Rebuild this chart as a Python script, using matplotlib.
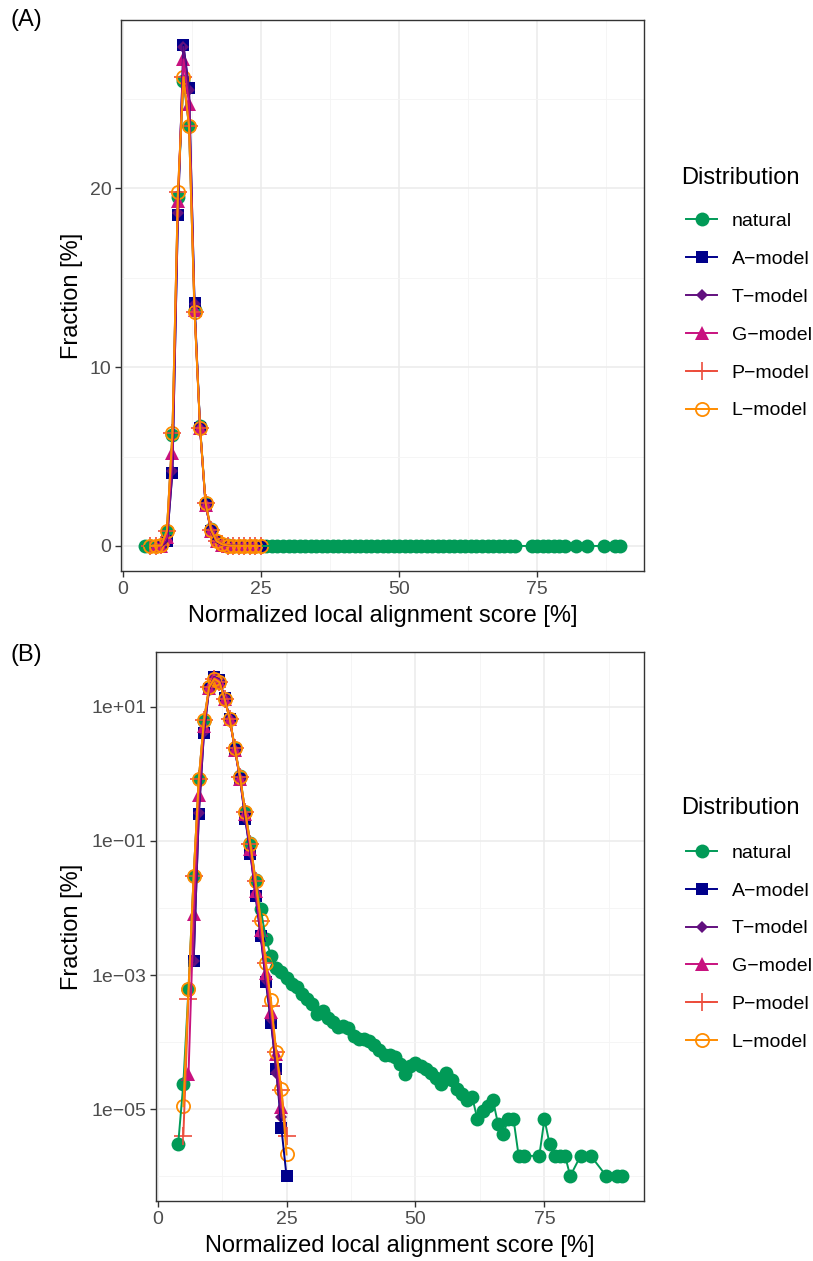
import numpy as np
import matplotlib
matplotlib.use("Agg")
import matplotlib.pyplot as plt
from matplotlib.lines import Line2D
from matplotlib.ticker import FixedLocator, NullFormatter

plt.rcParams['font.family'] = ['Liberation Sans', 'DejaVu Sans']

# ---------------- data ----------------
nat_x = list(range(4, 72)) + list(range(74, 81)) + [82, 84, 87, 89, 90]
nat_y = [3.0e-6, 2.4e-5, 6.2e-4, 0.03, 0.83, 6.2, 19.5, 26.0, 23.5, 13.2,
         6.7, 2.4, 0.92, 0.275, 0.092, 0.026, 0.0095, 0.0035, 0.0019, 0.00126,
         0.0011, 9.0e-4, 7.4e-4, 6.6e-4, 5.2e-4, 4.4e-4, 3.7e-4, 2.6e-4, 2.9e-4, 2.3e-4,
         1.96e-4, 1.7e-4, 1.74e-4, 1.6e-4, 1.25e-4, 1.12e-4, 1.12e-4, 1.05e-4, 8.9e-5, 7.5e-5,
         6.3e-5, 6.4e-5, 6.0e-5, 4.7e-5, 3.3e-5, 4.4e-5, 4.8e-5, 4.4e-5, 4.0e-5, 3.4e-5,
         2.9e-5, 2.4e-5, 3.5e-5, 2.75e-5, 2.0e-5, 1.7e-5, 1.35e-5, 1.5e-5, 7.1e-6, 9.4e-6,
         1.12e-5, 1.38e-5, 6.0e-6, 4.2e-6, 7.1e-6, 7.1e-6, 2.0e-6, 2.0e-6,
         2.0e-6, 7.1e-6, 3.0e-6, 2.0e-6, 2.0e-6, 2.0e-6, 1.0e-6,
         2.0e-6, 2.0e-6, 1.0e-6, 1.0e-6, 1.0e-6]

a_x = list(range(7, 26))
a_y = [1.6e-3, 0.25, 4.1, 18.5, 28.0, 25.6, 13.6, 6.6, 2.3, 0.83,
       0.21, 0.065, 0.015, 3.8e-3, 7.9e-4, 1.9e-4, 4.0e-5, 5.3e-6, 1.0e-6]

t_x = list(range(7, 25))
t_y = [1.6e-3, 0.26, 4.2, 18.6, 27.9, 25.5, 13.5, 6.6, 2.3, 0.84,
       0.22, 0.068, 0.016, 4.0e-3, 8.5e-4, 2.2e-4, 3.5e-5, 7.5e-6]

g_x = list(range(6, 25))
g_y = [3.3e-5, 8.2e-3, 0.49, 5.2, 19.3, 27.2, 24.7, 13.2, 6.6, 2.3,
       0.85, 0.25, 0.075, 0.018, 4.7e-3, 1.06e-3, 2.8e-4, 6.7e-5, 1.06e-5]

p_x = list(range(5, 26))
p_y = [4.0e-6, 4.4e-4, 0.03, 0.85, 6.3, 19.8, 26.2, 23.5, 13.1, 6.6,
       2.4, 0.9, 0.27, 0.09, 0.025, 6.5e-3, 1.5e-3, 3.5e-4, 7.2e-5, 1.9e-5, 4.0e-6]

l_x = list(range(5, 26))
l_y = [1.1e-5, 6.2e-4, 0.03, 0.85, 6.3, 19.8, 26.2, 23.5, 13.1, 6.6,
       2.4, 0.9, 0.27, 0.09, 0.025, 6.7e-3, 1.5e-3, 4.2e-4, 7.2e-5, 2.0e-5, 2.1e-6]

series_names = ["natural", "A\u2212model", "T\u2212model", "G\u2212model", "P\u2212model", "L\u2212model"]
legend_title = "Distribution"
xlabel = "Normalized local alignment score [%]"
ylabel = "Fraction [%]"

# ---------------- styles ----------------
styles = [
    dict(color="#019A57", marker="o", ms=10, mfc="#019A57", mew=0),
    dict(color="#00008B", marker="s", ms=9.3, mfc="#00008B", mew=0),
    dict(color="#62107F", marker="D", ms=6.5, mfc="#62107F", mew=0),
    dict(color="#C8127F", marker="^", ms=10.5, mfc="#C8127F", mew=0),
    dict(color="#EC4D3C", marker="+", ms=13, mfc="none", mew=1.2),
    dict(color="#FF8C00", marker="o", ms=9.5, mfc="none", mew=1.3),
]
data = [(nat_x, nat_y), (a_x, a_y), (t_x, t_y), (g_x, g_y), (p_x, p_y), (l_x, l_y)]

W, H = 813, 1261
fig = plt.figure(figsize=(W / 100, H / 100), dpi=100)

def fx(px):
    return px / W

def fy(py):
    return 1 - py / H

A_L, A_R, A_T, A_B = 121, 644, 20, 571
B_L, B_R, B_T, B_B = 156, 644, 652, 1201
axA = fig.add_axes([fx(A_L), fy(A_B), fx(A_R) - fx(A_L), fy(A_T) - fy(A_B)])
axB = fig.add_axes([fx(B_L), fy(B_B), fx(B_R) - fx(B_L), fy(B_T) - fy(B_B)])

grid_major = "#EBEBEB"
tick_col = "#4D4D4D"
LW = 1.4

def draw(ax, logy, left_px, right_px):
    for (xs, ys), st in zip(data, styles):
        ax.plot(xs, ys, linestyle="none", marker=st["marker"], ms=st["ms"],
                mfc=st["mfc"], mec=st["color"], mew=st["mew"], zorder=3)
    for (xs, ys), st in zip(data, styles):
        ax.plot(xs, ys, linestyle="-", color=st["color"], lw=LW, zorder=4)
    ax.set_xlim(-0.3, 94.3)
    ax.xaxis.set_major_locator(FixedLocator([0, 25, 50, 75]))
    ax.xaxis.set_minor_locator(FixedLocator([12.5, 37.5, 62.5, 87.5]))
    ax.xaxis.set_minor_formatter(NullFormatter())
    if logy:
        ax.set_yscale("log")
        ax.set_ylim(10 ** -6.372, 10 ** 1.82)
        ax.yaxis.set_major_locator(FixedLocator([1e-5, 1e-3, 1e-1, 1e1]))
        ax.set_yticklabels(["1e\u221205", "1e\u221203", "1e\u221201", "1e+01"])
        ax.yaxis.set_minor_locator(FixedLocator([1e-6, 1e-4, 1e-2, 1e0]))
        ax.yaxis.set_minor_formatter(NullFormatter())
    else:
        ax.set_ylim(-1.4, 29.4)
        ax.yaxis.set_major_locator(FixedLocator([0, 10, 20]))
        ax.yaxis.set_minor_locator(FixedLocator([5, 15, 25]))
        ax.yaxis.set_minor_formatter(NullFormatter())
    ax.grid(True, which="major", color=grid_major, lw=1.1, zorder=0)
    ax.grid(True, which="minor", color="#F4F4F4", lw=0.6, zorder=0)
    ax.set_axisbelow(True)
    for s in ax.spines.values():
        s.set_color("#333333")
        s.set_linewidth(1.0)
    ax.tick_params(which="major", length=4, width=1.0, color="#333333",
                   labelcolor=tick_col, labelsize=14, pad=3)
    ax.tick_params(which="minor", length=0)
    ax.set_xlabel(xlabel, fontsize=17, labelpad=5)
    ax.set_ylabel(ylabel, fontsize=17)
    ax.yaxis.set_label_coords((83 - left_px) / (right_px - left_px), 0.5)

draw(axA, False, A_L, A_R)
draw(axB, True, B_L, B_R)

handles = [Line2D([], [], color=st["color"], lw=LW, marker=st["marker"], ms=st["ms"],
                  mfc=st["mfc"], mec=st["color"], mew=st["mew"]) for st in styles]

for ax, title_y, cy in [(axA, 178, 316), (axB, 808, 947.5)]:
    ax.legend(handles, series_names, loc="center left",
              bbox_to_anchor=(fx(686), fy(cy)), bbox_transform=fig.transFigure,
              frameon=False, fontsize=14,
              handlelength=1.6, handletextpad=0.75, labelspacing=1.04,
              borderpad=0, borderaxespad=0)
    fig.text(fx(681), fy(title_y), legend_title, fontsize=17, va="center", ha="left")

fig.text(fx(10), fy(20), "(A)", fontsize=17, va="center", ha="left")
fig.text(fx(10), fy(655), "(B)", fontsize=17, va="center", ha="left")

fig.savefig("out.png", dpi=100)
